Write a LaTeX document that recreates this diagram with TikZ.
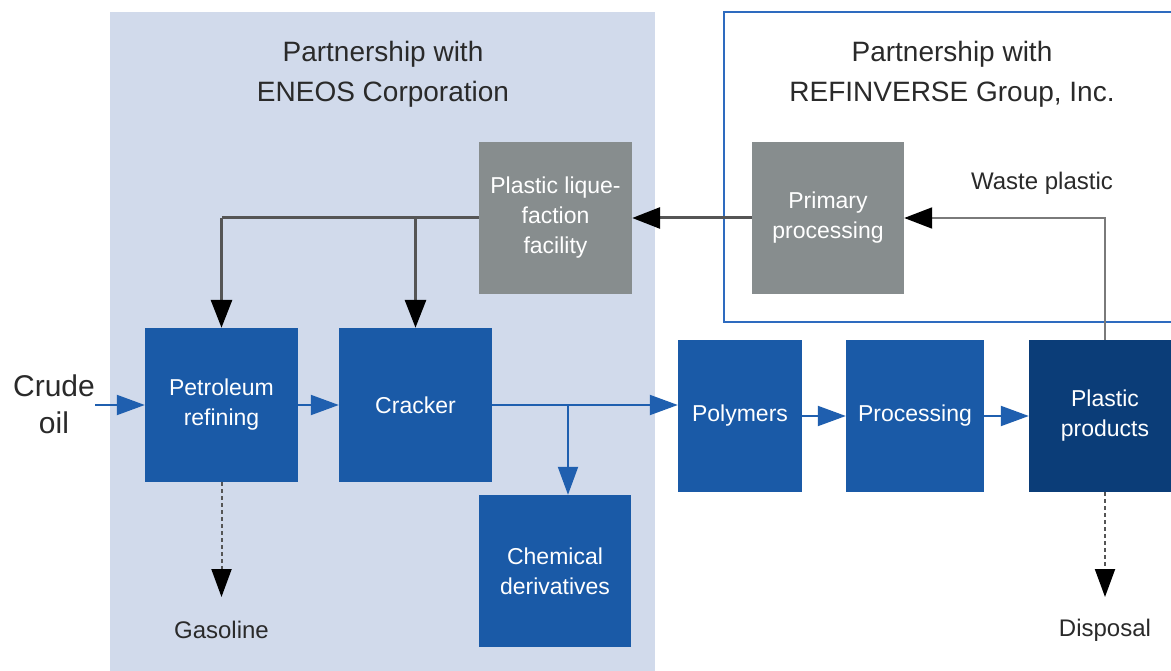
\documentclass[tikz,border=0pt]{standalone}
\usepackage{fontspec}
\setmainfont{Liberation Sans}
\usetikzlibrary{arrows.meta}
\definecolor{bgblue}{HTML}{D1DAEB}
\definecolor{boxblue}{HTML}{1A5AA7}
\definecolor{darkblue}{HTML}{0B3D78}
\definecolor{boxgray}{HTML}{878D8E}
\definecolor{frameblue}{HTML}{2E6BBF}
\definecolor{lineblue}{HTML}{1F5FAF}
\definecolor{linegray}{HTML}{555555}
\definecolor{thingray}{HTML}{7A7A7A}
\definecolor{txt}{HTML}{2A2A2A}
\begin{document}
\begin{tikzpicture}[x=1pt,y=-1pt,
  procbox/.style={rectangle, fill=boxblue, text=white, inner sep=0pt, align=center,
    font=\fontsize{23}{30}\selectfont},
  graybox/.style={procbox, fill=boxgray},
  darkbox/.style={procbox, fill=darkblue},
  headlabel/.style={align=center, text=txt, inner sep=0pt, font=\fontsize{28}{40}\selectfont},
  sidelabel/.style={align=center, text=txt, inner sep=0pt, font=\fontsize{24}{30}\selectfont},
  crudelabel/.style={align=center, text=txt, inner sep=0pt, font=\fontsize{30}{37}\selectfont},
  bluearrow/.style={draw=lineblue, line width=2pt, -{Triangle[length=28pt,width=20pt]}, lineblue},
  blackarrow/.style={draw=linegray, line width=3pt,
    arrows={-{Triangle[length=28pt,width=21pt,color=black]}}},
  blackline/.style={draw=linegray, line width=3pt},
  thinarrow/.style={draw=thingray, line width=2pt, arrows={-{Triangle[length=28pt,width=21pt,color=black]}}},
  dasharrow/.style={draw=linegray, line width=2pt, dash pattern=on 4pt off 3pt,
    arrows={-{Triangle[length=28pt,width=20pt,color=black]}}}
]
\useasboundingbox (0,0) rectangle (1171,671);
\clip (0,0) rectangle (1171,671);
\fill[white] (0,0) rectangle (1171,671);

% partnership areas
\fill[bgblue] (110,12) rectangle (655,680);
\draw[frameblue, line width=1.5pt] (724,12) rectangle (1190,322);

\node[headlabel] (hEneos) at (383,74) {Partnership with\\ENEOS Corporation};
\node[headlabel] (hRef) at (952,74) {Partnership with\\REFINVERSE Group, Inc.};

% boxes
\node[graybox, minimum width=153pt, minimum height=152pt] (plf) at (555.5,218) {Plastic lique-\\faction\\facility};
\node[graybox, minimum width=152pt, minimum height=152pt] (pp) at (828,218) {Primary\\processing};
\node[procbox, minimum width=153pt, minimum height=154pt] (pr) at (221.5,405) {Petroleum\\refining};
\node[procbox, minimum width=153pt, minimum height=154pt] (cr) at (415.5,405) {Cracker};
\node[procbox, minimum width=152pt, minimum height=152pt] (cd) at (555,571) {Chemical\\derivatives};
\node[procbox, minimum width=124pt, minimum height=152pt] (po) at (740,416) {Polymers};
\node[procbox, minimum width=138pt, minimum height=152pt] (prc) at (915,416) {Processing};
\node[darkbox, minimum width=152pt, minimum height=152pt] (ppr) at (1105,416) {Plastic\\products};

% labels
\node[crudelabel] (crude) at (54,404) {Crude\\oil};
\node[sidelabel] (gas) at (221.5,630) {Gasoline};
\node[sidelabel] (disp) at (1105,630) {Disposal};
\node[sidelabel] (waste) at (1042,183) {Waste plastic};

% coordinates
\coordinate (cin) at (95,405);
\coordinate (j1) at (568,405);
\coordinate (wtop) at (1105,218);
\coordinate (gtip) at (221.5,597);
\coordinate (dtip) at (1105,597);

% blue flow
\draw[bluearrow] (cin) -- (pr.west);
\draw[bluearrow] (pr.east) -- (cr.west);
\draw[bluearrow] (cr.east) -- (cr.east -| po.west);
\draw[bluearrow] (j1) -- (j1 |- cd.north);
\draw[bluearrow] (po.east) -- (prc.west);
\draw[bluearrow] (prc.east) -- (ppr.west);

% recycling loop
\draw[thinarrow] (ppr.north) -- (wtop) -- (wtop -| pp.east);
\draw[blackarrow] (pp.west) -- (plf.east);
\draw[blackline] (plf.west) -- (plf.west -| pr.north);
\draw[blackarrow] (plf.west -| pr.north) -- (pr.north);
\draw[blackarrow] (plf.west -| cr.north) -- (cr.north);

% dashed outputs
\draw[dasharrow] (pr.south) -- (gtip);
\draw[dasharrow] (ppr.south) -- (dtip);
\end{tikzpicture}
\end{document}
